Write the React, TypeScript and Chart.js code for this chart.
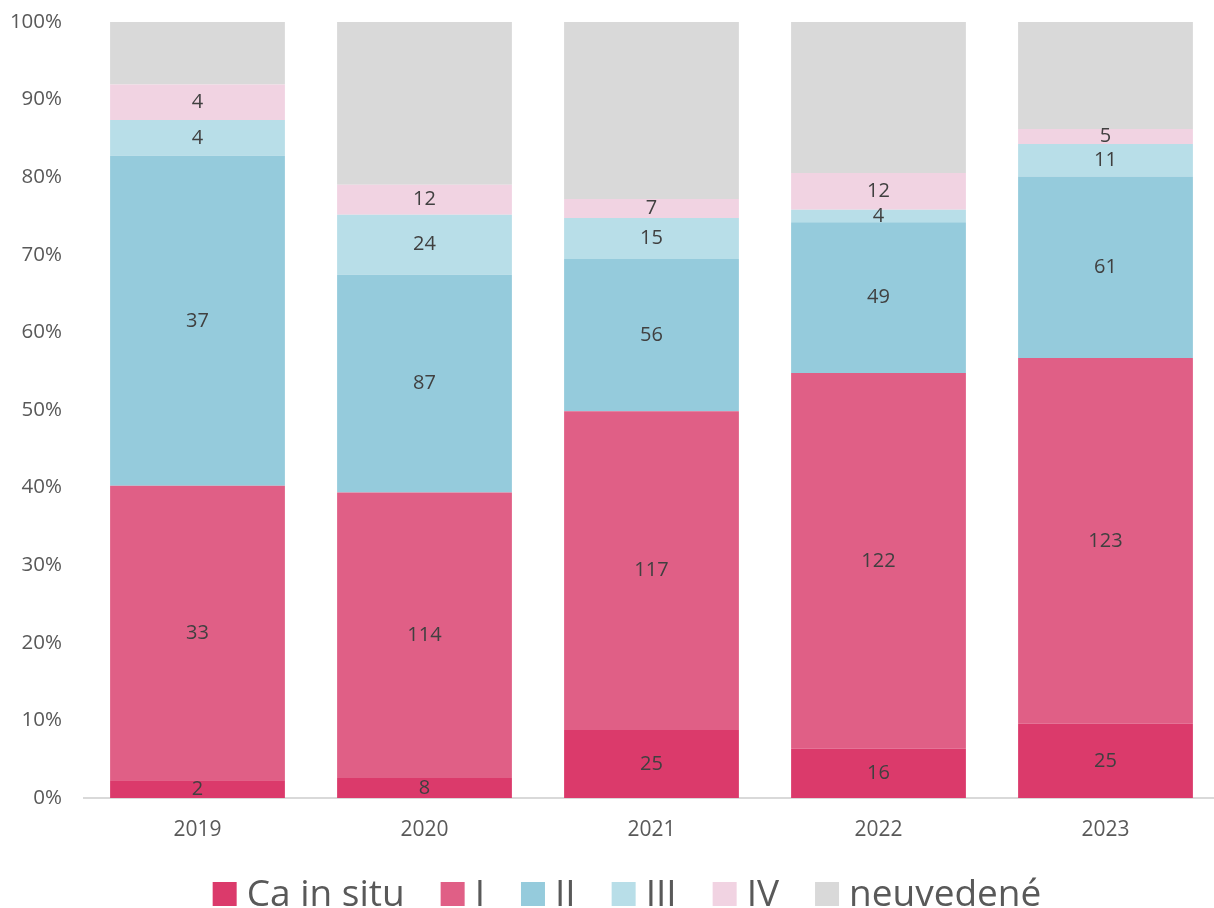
import React, { useEffect, useRef } from "react";
import { Chart, registerables } from "chart.js";

Chart.register(...registerables);

const categories = ["2019", "2020", "2021", "2022", "2023"];
const seriesNames = ["Ca in situ", "I", "II", "III", "IV", "neuvedené"];
const caInSitu = [2, 8, 25, 16, 25];
const stageI = [33, 114, 117, 122, 123];
const stageII = [37, 87, 56, 49, 61];
const stageIII = [4, 24, 15, 4, 11];
const stageIV = [4, 12, 7, 12, 5];
const notStated = [7, 65, 65, 49, 36];
const colors = ["#DB3A6B", "#E05F86", "#95CBDC", "#B8DEE8", "#F1D3E2", "#D9D9D9"];
const showLabel = [true, true, true, true, true, false];
const yTicks = [0, 10, 20, 30, 40, 50, 60, 70, 80, 90, 100];

const FONT = "'Open Sans', 'Noto Sans', sans-serif";

export default function App() {
  const ref = useRef<HTMLCanvasElement | null>(null);
  useEffect(() => {
    const series = [caInSitu, stageI, stageII, stageIII, stageIV, notStated];
    const totals = categories.map((_, i) => series.reduce((s, a) => s + a[i], 0));
    const labelPlugin = {
      id: "segLabels",
      afterDatasetsDraw(chart: any) {
        const ctx = chart.ctx;
        ctx.save();
        ctx.font = `20px ${FONT}`;
        ctx.fillStyle = "#404040";
        ctx.textAlign = "center";
        ctx.textBaseline = "middle";
        chart.data.datasets.forEach((ds: any, di: number) => {
          if (!showLabel[di]) return;
          const meta = chart.getDatasetMeta(di);
          meta.data.forEach((el: any, i: number) => {
            const y = (el.y + el.base) / 2;
            ctx.fillText(String(ds.counts[i]), el.x, y);
          });
        });
        ctx.restore();
      },
    };
    const legendPlugin = {
      id: "customLegend",
      afterDraw(chart: any) {
        const ctx = chart.ctx;
        ctx.save();
        ctx.font = `37px ${FONT}`;
        const box = 24;
        const gapText = 10;
        const gapItem = 36;
        const widths = chart.data.datasets.map((ds: any) => ctx.measureText(ds.label).width);
        const total = widths.reduce((s: number, w: number) => s + box + gapText + w, 0) + gapItem * (widths.length - 1);
        let x = 627 - total / 2;
        const baseY = 906;
        ctx.textBaseline = "alphabetic";
        ctx.textAlign = "left";
        chart.data.datasets.forEach((ds: any, i: number) => {
          ctx.fillStyle = ds.backgroundColor;
          ctx.fillRect(x, baseY - box, box, box);
          x += box + gapText;
          ctx.fillStyle = "#595959";
          ctx.fillText(ds.label, x, baseY);
          x += widths[i] + gapItem;
        });
        ctx.restore();
      },
    };
    const chart = new Chart(ref.current!, {
      type: "bar",
      data: {
        labels: categories,
        datasets: series.map((arr, di) => ({
          label: seriesNames[di],
          data: arr.map((v, i) => (v / totals[i]) * 100),
          counts: arr,
          backgroundColor: colors[di],
          borderWidth: 0,
          barPercentage: 0.77,
          categoryPercentage: 1,
        })) as any,
      },
      options: {
        animation: false,
        responsive: false,
        maintainAspectRatio: false,
        layout: { padding: { top: 22, left: 0, right: 0, bottom: 65 } },
        plugins: {
          tooltip: { enabled: false },
          legend: { display: false },
        },
        scales: {
          x: {
            stacked: true,
            grid: { display: false, drawTicks: false },
            border: { display: true, color: "#D9D9D9", width: 2 },
            ticks: { color: "#595959", font: { size: 21, family: FONT }, padding: 19 },
            afterFit: (axis: any) => {
              axis.height = 45;
              axis.paddingLeft = 0;
              axis.paddingRight = 0;
            },
          },
          y: {
            stacked: true,
            min: 0,
            max: 100,
            afterBuildTicks: (axis: any) => {
              axis.ticks = yTicks.map((v) => ({ value: v }));
            },
            afterFit: (axis: any) => {
              axis.width = 84;
              axis.paddingTop = 0;
              axis.paddingBottom = 0;
            },
            grid: { display: false, drawTicks: false },
            border: { display: false },
            ticks: {
              color: "#595959",
              font: { size: 20.5, family: FONT },
              padding: 22,
              callback: (v: any) => `${v}%`,
            },
          },
        },
      },
      plugins: [labelPlugin, legendPlugin],
    });
    return () => chart.destroy();
  }, []);
  return (
    <div style={{ position: "absolute", left: 0, top: 0, width: 1214, height: 908, overflow: "hidden", background: "#fff" }}>
      <canvas ref={ref} width={1219} height={908} style={{ display: "block" }} />
    </div>
  );
}
